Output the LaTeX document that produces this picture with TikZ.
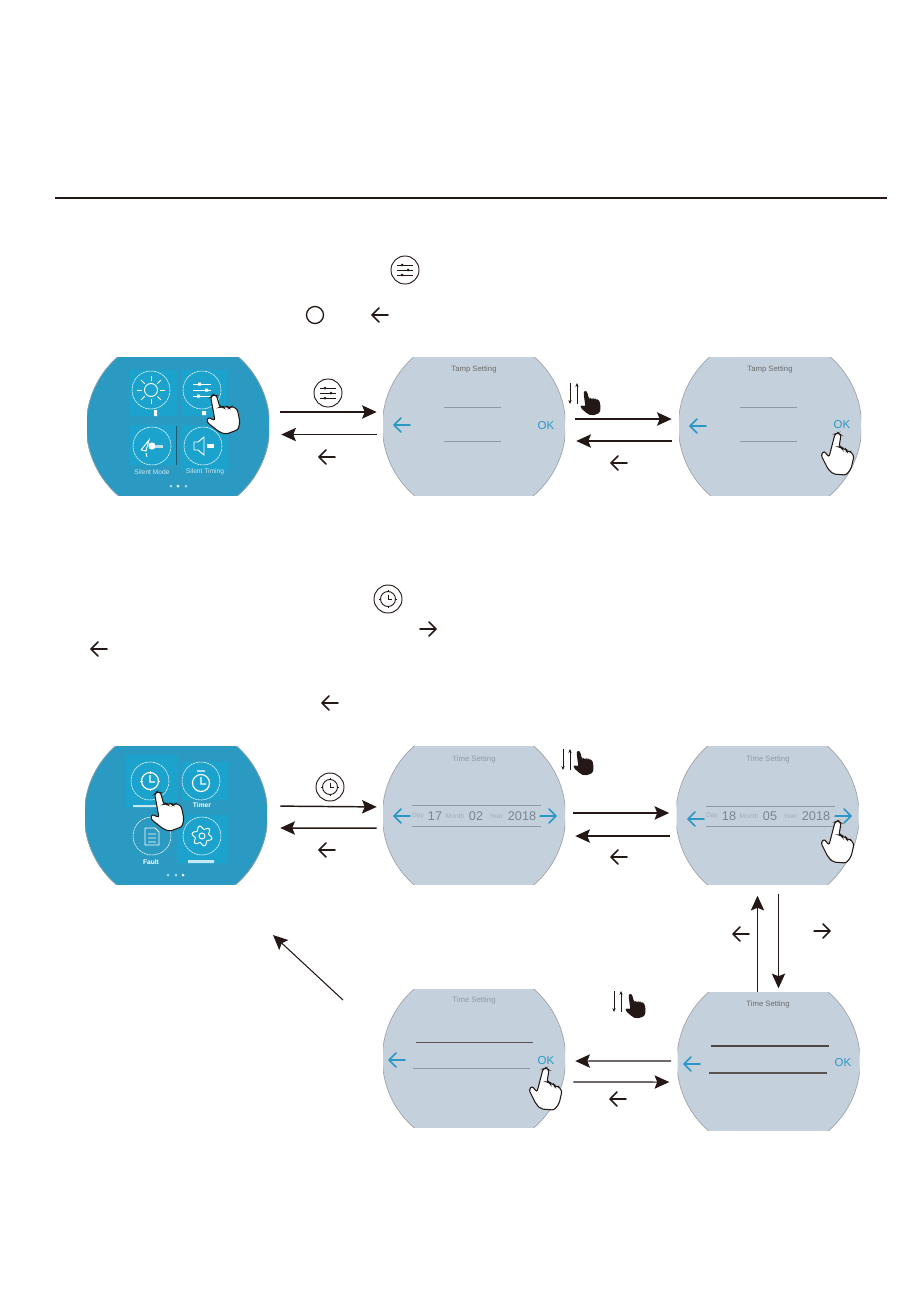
\documentclass[tikz,border=0pt]{standalone}
\usepackage{fontspec}
\setmainfont{Liberation Sans}
\usetikzlibrary{arrows.meta}
\definecolor{teal}{HTML}{2A9AC2}
\definecolor{tile}{HTML}{1CA3CD}
\definecolor{mist}{HTML}{C4D0DC}
\definecolor{ink}{HTML}{231815}
\definecolor{rule}{HTML}{8F9AA6}
\definecolor{oktext}{HTML}{2A98C4}

\begin{document}
\begin{tikzpicture}[x=.75pt,y=-.75pt,
 dial/.style={rectangle,inner sep=0pt,minimum width=136.5pt,minimum height=103.5pt,path picture={\fill[#1] (path picture bounding box.center) circle[radius=92]; \draw[gray!75,line width=.4pt] (path picture bounding box.center) circle[radius=91.6];}},
 link/.style={ink,line width=1.1pt,-{Stealth[length=11pt,width=10pt,inset=2pt]}},
 thin link/.style={link,line width=.8pt},
 head/.style={font=\fontsize{5.8pt}{7pt}\selectfont,inner sep=0pt},
 okay/.style={font=\fontsize{8.6pt}{10pt}\selectfont,text=oktext,inner sep=0pt},
 unit/.style={font=\fontsize{5pt}{6pt}\selectfont,text=rule!80,inner sep=0pt},
 value/.style={font=\fontsize{9.5pt}{11pt}\selectfont,text=rule!120,inner sep=0pt},
 tag/.style={font=\fontsize{5pt}{6pt}\selectfont,text=white!75!teal,inner sep=0pt},
 round/.style={white,line width=.4pt,dash pattern=on 1.6pt off .5pt},
 glyph/.style={white,line width=.7pt},
 pics/backarr/.style={code={\draw[line width=1.15pt,line cap=round,line join=round,pic actions] (8,0)--(-8,0) (-1,-7)--(-8,0)--(-1,7);}},
 pics/hand/.style={code={\path[line width=.8pt,pic actions,rounded corners=1.6pt] (0,0)--(-3,1)--(-9,24)--(-14,18)--(-17,22)--(-10,36)--(-5,41)--(8,42)--(13,36)--(16,23)--(12,18)--(9,19)--(8,16)--(4,16)--(3,14)--(1,14)--(3,2)--cycle;}},
 pics/updown/.style={code={\draw[ink,line width=.6pt,-{Stealth[length=3pt,width=2.5pt]}] (0,0)--(0,21); \draw[ink,line width=.6pt,-{Stealth[length=3pt,width=2.5pt]}] (7,21)--(7,0);}},
 pics/slidericon/.style={code={\draw[ink,line width=.7pt] (0,0) circle[radius=14];
  \draw[ink,line width=.55pt] (-8,-5)--(8,-5) (-8,0)--(8,0) (-8,5)--(8,5);
  \fill[ink] (-3,-5) circle[radius=1.5] (3,0) circle[radius=1.5] (-3,5) circle[radius=1.5];}},
 pics/clockicon/.style={code={\draw[ink,line width=.7pt] (0,0) circle[radius=14] (0,0) circle[radius=7.5];
  \draw[ink,line width=.7pt] (0,-4.5)--(0,0)--(3.5,0);
  \foreach \a in {0,90,180,270}{\draw[ink,line width=.7pt] (\a:7)--(\a:9);}}}]
 \useasboundingbox (0,0) rectangle (919,1299);
 \draw[ink,line width=1.2pt] (55,198)--(887,198);
 \pic at (405,270) {slidericon};
 \draw[ink,line width=1pt] (315,315) circle[radius=8.5];
 \pic[ink] at (380,315) {backarr};
 \pic at (388,599) {clockicon};
 \pic[ink,rotate=180] at (428,629) {backarr};
 \pic[ink] at (99,649) {backarr};
 \pic[ink] at (330,703) {backarr};

 \node[dial=teal] (scrA) at (178,426) {};
 \node[dial=mist] (scrB) at (474,426) {};
 \node[dial=mist] (scrC) at (770,426) {};
 \node[dial=teal] (scrD) at (176,815) {};
 \node[dial=mist] (scrE) at (474,815.5) {};
 \node[dial=mist] (scrF) at (767.5,815.5) {};
 \node[dial=mist] (scrG) at (474,1058.5) {};
 \node[dial=mist] (scrH) at (768.5,1061.5) {};

 \fill[tile] (130,370) rectangle (177,416) (181,370) rectangle (227,416) (130,425) rectangle (177,465) (181,425) rectangle (228,470);
 \draw[teal!60!black,line width=.4pt] (176,426)--(176,465);
 \foreach \x/\y in {151/390,202/390,152/446,203/446}{\draw[round] (\x,\y) circle[radius=19];}
 \draw[glyph] (151,390) circle[radius=6.5];
 \foreach \a in {0,45,...,315}{\draw[glyph] (151,390)++(\a:9)--++(\a:5);}
 \draw[glyph] (193,384)--(211,384) (193,390)--(211,390) (193,396)--(211,396);
 \fill[white] (198,382.5) rectangle (201,385.5) (205,388.5) rectangle (208,391.5) (197,394.5) rectangle (200,397.5);
 \fill[white] (154,410) rectangle (157,416) (202,411) rectangle (206,415);
 \draw[glyph] (141,450)--(149,440)--(146,451)--(141,450) (147,457)--(146,453);
 \fill[white] (152,446) circle[radius=3.6];
 \fill[white!70!teal] (155,444.5) rectangle (163,447.5);
 \draw[glyph] (194,442)--(198,442)--(204,437)--(204,455)--(198,450)--(194,450)--cycle;
 \fill[white] (207,444) rectangle (214,448);
 \node[tag] (muteA) at (152,472) {Silent Mode};
 \node[tag] (timeA) at (205,472) {Silent Timing};
 \foreach \x/\c in {171/60,178/100,186/60}{\fill[white!\c!teal] (\x,486) circle[radius=1.5];}
 \pic[fill=white,draw=ink,rotate=25] at (213,395) {hand};

 \fill[tile] (126,755) rectangle (178,807) (182,762) rectangle (228,800) (177,815) rectangle (228,863);
 \foreach \x/\y in {150/781,201/781,152/836,202/836}{\draw[round] (\x,\y) circle[radius=19];}
 \draw[glyph,line width=.9pt] (150,781) circle[radius=8.5] (150,775)--(150,782)--(155,782);
 \foreach \a in {0,90,180,270}{\draw[glyph] (150,781)++(\a:7.5)--++(\a:2.5);}
 \draw[glyph,line width=.9pt] (201,783) circle[radius=8.5] (201,777)--(201,784)--(206,784) (197,771)--(205,771);
 \draw[glyph] (145,828)--(155,828)--(159,832)--(159,845)--(145,845)--cycle (148,834)--(156,834) (148,838)--(156,838) (148,842)--(156,842);
 \draw[glyph,shift={(202,836)}] plot[domain=0:352.5,samples=48,smooth cycle] (\x:{8.5+1.7*sin(6*\x)});
 \draw[glyph] (202,836) circle[radius=3];
 \fill[white!75!tile] (133,805) rectangle (158,807) (188,860) rectangle (214,863);
 \node[tag,text=white,font=\fontsize{5pt}{6pt}\selectfont\bfseries] (timerD) at (202,805) {Timer};
 \node[tag,text=white,font=\fontsize{5pt}{6pt}\selectfont\bfseries] (faultD) at (151,862) {Fault};
 \foreach \x/\c in {168/60,176/60,183/100}{\fill[white!\c!teal] (\x,875) circle[radius=1.5];}
 \pic[fill=white,draw=ink,rotate=25] at (157,792) {hand};

 \node[head,text=gray!85!black] (headB) at (474,369) {Tamp Setting};
 \node[head,text=gray!85!black] (headC) at (770,369) {Tamp Setting};
 \node[head,text=rule] (headE) at (474,759) {Time Setting};
 \node[head,text=rule] (headF) at (768,759) {Time Setting};
 \node[head,text=rule] (headG) at (474,1000) {Time Setting};
 \node[head,text=gray!85!black] (headH) at (768,1004) {Time Setting};
 \node[okay] (okB) at (546,426) {OK};
 \node[okay] (okC) at (842,425) {OK};
 \node[okay] (okG) at (546,1061) {OK};
 \node[okay] (okH) at (843,1063) {OK};
 \foreach \x/\y in {402/425,698/426,402/816,696/819,397/1060,692/1064}{\pic[oktext] at (\x,\y) {backarr};}
 \foreach \x/\y in {548/816,843/816}{\pic[oktext,rotate=180] at (\x,\y) {backarr};}
 \draw[rule,line width=.6pt] (444,407)--(501,407) (444,441)--(501,441) (740,407)--(797,407) (740,441)--(797,441);
 \draw[rule,line width=.6pt] (412,805)--(541,805) (412,826)--(541,826) (706,806)--(835,806) (706,826)--(835,826);
 \draw[ink!75,line width=.7pt] (416,1042)--(533,1042);
 \draw[rule,line width=.6pt] (413,1068)--(530,1068);
 \draw[ink!80,line width=1.2pt] (711,1046)--(829,1046);
 \draw[ink!75,line width=.8pt] (709,1073)--(827,1073);

 \foreach \t/\x/\n in {Day/418/a,Month/455/b,Year/496/c}{\node[unit] (e\n) at (\x,816) {\t};}
 \foreach \t/\x/\n in {17/435/a,02/476/b,2018/522/c}{\node[value] (v\n) at (\x,816) {\t};}
 \foreach \t/\x/\n in {Day/712/a,Month/749/b,Year/790/c}{\node[unit] (f\n) at (\x,816) {\t};}
 \foreach \t/\x/\n in {18/729/a,05/770/b,2018/816/c}{\node[value] (w\n) at (\x,816) {\t};}

 \pic[fill=white,draw=ink] at (838,433) {hand};
 \pic[fill=white,draw=ink] at (838,821) {hand};
 \pic[fill=white,draw=ink] at (546,1068) {hand};
 \foreach \x/\y in {570/383,563/749,614/991}{\pic at (\x,\y) {updown};}
 \foreach \x/\y in {585/391,578/751,630/994}{\pic[fill=ink,rotate=22,scale=.62] at (\x,\y) {hand};}

 \draw[link,shorten <=8.25pt,shorten >=4.5pt] ([yshift=10.5pt]scrA.east)--([yshift=10.5pt]scrB.west);
 \draw[link,shorten <=4.5pt,shorten >=9pt] ([yshift=-6.4pt]scrB.west)--([yshift=-6.4pt]scrA.east);
 \pic at (328,393) {slidericon};
 \pic[ink] at (327,457) {backarr};
 \draw[link,shorten <=7.5pt,shorten >=5.25pt] ([yshift=5.25pt]scrB.east)--([yshift=5.25pt]scrC.west);
 \draw[link,shorten <=5.25pt,shorten >=8.25pt] ([yshift=-11.25pt]scrC.west)--([yshift=-11.25pt]scrB.east);
 \pic[ink] at (619,463) {backarr};
 \draw[link,shorten <=9.75pt,shorten >=4.5pt] ([yshift=6.75pt]scrD.east)--([yshift=6.4pt]scrE.west);
 \draw[link,shorten <=4.5pt,shorten >=9.75pt] ([yshift=-9.4pt]scrE.west)--([yshift=-9.75pt]scrD.east);
 \pic at (330,787) {clockicon};
 \pic[ink] at (327,850) {backarr};
 \draw[link,shorten <=6pt,shorten >=5.25pt] ([yshift=1.9pt]scrE.east)--([yshift=1.9pt]scrF.west);
 \draw[link,shorten <=4.5pt,shorten >=7.5pt] ([yshift=-15.4pt]scrF.west)--([yshift=-15.4pt]scrE.east);
 \pic[ink] at (619,857) {backarr};
 \draw[thin link,shorten >=8.25pt] ([xshift=-8.25pt]scrH.north)--([xshift=-7.5pt]scrF.south);
 \draw[thin link,shorten <=6.75pt,shorten >=3pt] ([xshift=8.25pt]scrF.south)--([xshift=7.5pt]scrH.north);
 \pic[ink] at (741,934) {backarr};
 \pic[ink,rotate=180] at (822,931) {backarr};
 \draw[thin link,shorten <=4.5pt,shorten >=7.5pt] ([yshift=.4pt]scrH.west)--([yshift=-1.9pt]scrG.east);
 \draw[thin link,shorten <=6pt,shorten >=6pt] ([yshift=-17.6pt]scrG.east)--([yshift=-15.4pt]scrH.west);
 \pic[ink] at (618,1099) {backarr};
 \coordinate (diagS) at (343,1000);
 \coordinate (diagT) at (273,935);
 \draw[thin link] (diagS)--(diagT);
\end{tikzpicture}
\end{document}
